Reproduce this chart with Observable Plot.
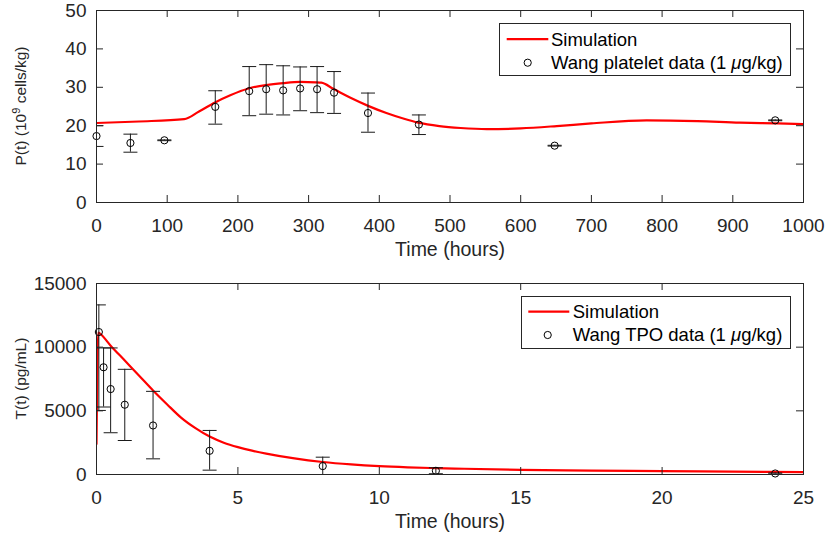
<!DOCTYPE html>
<html><head><meta charset="utf-8">
<script src="https://cdn.jsdelivr.net/npm/d3@7"></script>
<script src="https://cdn.jsdelivr.net/npm/@observablehq/plot@0.6"></script>
<style>
body{margin:0;background:#fff;font-family:"Liberation Sans",Arial,sans-serif;}
#wrap{position:relative;width:826px;height:538px;overflow:hidden;background:#fff;}
#wrap > svg{display:block;}
</style></head><body><div id="wrap"></div>
<script>
// ---------- Top panel: platelets ----------
const pXTicks = [0,100,200,300,400,500,600,700,800,900,1000];
const pYTicks = [0,10,20,30,40,50];
const pTime = [0, 48, 96, 168, 216, 240, 264, 288, 312, 336, 384, 456, 648, 960];
const pMean = [17.3, 15.5, 16.2, 24.9, 29.0, 29.5, 29.2, 29.7, 29.5, 28.6, 23.3, 20.3, 14.8, 21.4];
const pLo   = [14.6, 13.1, 16.1, 20.4, 22.6, 23.0, 22.8, 23.9, 23.4, 23.2, 18.3, 17.7, 14.7, 21.3];
const pHi   = [20.0, 17.8, 16.3, 29.1, 35.4, 35.9, 35.6, 35.3, 35.4, 34.1, 28.5, 22.8, 14.9, 21.5];
const pSimT = [0, 60, 124, 145, 167, 190, 215, 240, 264, 288, 310, 318, 335, 360, 385, 410, 435, 455, 485, 515, 552, 600, 651, 700, 778, 850, 910, 960, 1000];
const pSimV = [20.7, 21.1, 21.7, 23.7, 26.0, 28.0, 29.7, 30.6, 31.1, 31.4, 31.3, 31.2, 29.6, 27.2, 25.1, 23.3, 21.8, 20.8, 19.9, 19.4, 19.1, 19.3, 19.9, 20.6, 21.4, 21.2, 20.8, 20.6, 20.4];

// ---------- Bottom panel: TPO ----------
const tXTicks = [0,5,10,15,20,25];
const tYTicks = [0,5000,10000,15000];
const tTime = [0.083, 0.25, 0.5, 1, 2, 4, 8, 12, 24];
const tMean = [11190, 8420, 6710, 5480, 3850, 1860, 660, 290, 80];
const tLo   = [5030, 5300, 3280, 2670, 1230, 340, -40, 60, 40];
const tHi   = [13320, 9940, 9940, 8260, 6530, 3460, 1360, 530, 120];
const tSimT = [0, 0.06, 0.1, 0.5, 1, 1.5, 2, 2.5, 3, 3.5, 4, 4.5, 5, 5.5, 6, 7, 8, 9, 10, 11, 12, 13, 15, 17.5, 20, 22.5, 25];
const tSimV = [2400, 11150, 11100, 10120, 8950, 7780, 6600, 5500, 4450, 3640, 2980, 2500, 2150, 1870, 1640, 1260, 980, 790, 655, 565, 500, 450, 370, 310, 262, 220, 185];

const FONT = '"Liberation Sans", Arial, sans-serif';
const AX = "#262626";
const capSymbol = { draw(ctx, size) { const r = Math.sqrt(size / Math.PI); ctx.moveTo(-r, 0); ctx.lineTo(r, 0); } };

function panel({xDomain, xTicks, yDomain, yTicks, times, mean, lo, hi, simT, simV, xlabel, mt, mb}) {
  const W = 826, H = 269, ml = 96, mr = 23;
  const innerW = W - ml - mr, innerH = H - mt - mb;
  const data = times.map((t, i) => ({t, m: mean[i], lo: lo[i], hi: hi[i]}));
  const sim = simT.map((t, i) => ({t, v: simV[i]}));
  return Plot.plot({
    width: W, height: H, marginLeft: ml, marginRight: mr, marginTop: mt, marginBottom: mb,
    style: {fontFamily: FONT, color: AX, background: "white"},
    x: {domain: xDomain},
    y: {domain: yDomain},
    marks: [
      Plot.line(sim, {x: "t", y: "v", stroke: "#ff0000", strokeWidth: 2.2, curve: "monotone-x", clip: true}),
      Plot.ruleX(data, {x: "t", y1: "lo", y2: "hi", stroke: "#1a1a1a", strokeWidth: 1, clip: true}),
      Plot.dot(data, {x: "t", y: "lo", symbol: capSymbol, r: 7, fill: "none", stroke: "#1a1a1a", strokeWidth: 1, clip: true}),
      Plot.dot(data, {x: "t", y: "hi", symbol: capSymbol, r: 7, fill: "none", stroke: "#1a1a1a", strokeWidth: 1, clip: true}),
      Plot.dot(data, {x: "t", y: "m", r: 3.6, fill: "none", stroke: "black", strokeWidth: 1}),
      Plot.frame({stroke: AX, strokeWidth: 1}),
      Plot.tickX(xTicks, {x: d => d, insetTop: innerH - 7, stroke: AX}),
      Plot.tickX(xTicks, {x: d => d, insetBottom: innerH - 7, stroke: AX}),
      Plot.tickY(yTicks, {y: d => d, insetRight: innerW - 7, stroke: AX}),
      Plot.tickY(yTicks, {y: d => d, insetLeft: innerW - 7, stroke: AX}),
      Plot.axisX(xTicks, {tickSize: 0, tickPadding: 16, fontSize: 19, label: null, tickFormat: d => String(d), fill: AX}),
      Plot.axisY(yTicks, {tickSize: 0, tickPadding: 10, fontSize: 19, label: null, tickFormat: d => String(d), fill: AX}),
      Plot.text([xlabel], {text: d => d, frameAnchor: "bottom", lineAnchor: "middle", dy: 47, fontSize: 19.5, fill: AX})
    ]
  });
}

function addYLabel(svgNode, mt, mb, parts) {
  const cy = mt + (269 - mt - mb) / 2;
  const t = d3.select(svgNode).append("text")
    .attr("transform", `translate(21,${cy}) rotate(-90)`)
    .attr("text-anchor", "middle").attr("dy", "0.35em")
    .attr("font-family", FONT).attr("font-size", 15.5).attr("fill", AX);
  for (const p of parts) {
    const s = t.append("tspan").text(p.text);
    if (p.sup) s.attr("font-size", "11px").attr("baseline-shift", "6px");
  }
}

const wrapEl = document.getElementById("wrap");
const topPanel = panel({xDomain: [0, 1000], xTicks: pXTicks, yDomain: [0, 50], yTicks: pYTicks,
  times: pTime, mean: pMean, lo: pLo, hi: pHi, simT: pSimT, simV: pSimV,
  xlabel: "Time (hours)", mt: 10, mb: 67});
const botPanel = panel({xDomain: [0, 25], xTicks: tXTicks, yDomain: [0, 15000], yTicks: tYTicks,
  times: tTime, mean: tMean, lo: tLo, hi: tHi, simT: tSimT, simV: tSimV,
  xlabel: "Time (hours)", mt: 14, mb: 64});
wrapEl.appendChild(topPanel);
wrapEl.appendChild(botPanel);

addYLabel(topPanel, 10, 67, [{text: "P(t) (10"}, {text: "9", sup: true}, {text: " cells/kg)"}]);
addYLabel(botPanel, 14, 64, [{text: "T(t) (pg/mL)"}]);

// legends
function legend({left, topY, w, h, lineX1, lineX2, row1Y, row2Y, circX, circY, textX, label}) {
  const s = d3.select(wrapEl).append("svg")
    .style("position", "absolute").style("left", left + "px").style("top", topY + "px")
    .attr("width", w).attr("height", h).attr("font-family", FONT).attr("font-size", 18.5);
  s.append("rect").attr("x", 0.5).attr("y", 0.5).attr("width", w - 1).attr("height", h - 1)
    .attr("fill", "white").attr("stroke", AX).attr("stroke-width", 1);
  s.append("line").attr("x1", lineX1).attr("x2", lineX2).attr("y1", row1Y).attr("y2", row1Y)
    .attr("stroke", "#ff0000").attr("stroke-width", 2.2);
  s.append("text").attr("x", textX).attr("y", row1Y).attr("dy", "0.35em").attr("fill", "black").text("Simulation");
  s.append("circle").attr("cx", circX).attr("cy", circY).attr("r", 3.6).attr("fill", "none").attr("stroke", "black");
  const t2 = s.append("text").attr("x", textX).attr("y", row2Y).attr("dy", "0.35em").attr("fill", "black");
  t2.append("tspan").text(label + " (1 ");
  t2.append("tspan").attr("font-style", "italic").text("\u03bc");
  t2.append("tspan").text("g/kg)");
}
legend({left: 499, topY: 23, w: 292, h: 53, lineX1: 7.7, lineX2: 49.3, row1Y: 16.2, row2Y: 39.5, circX: 28.7, circY: 39.7, textX: 52, label: "Wang platelet data"});
legend({left: 521, topY: 296, w: 270, h: 53, lineX1: 7.3, lineX2: 48.3, row1Y: 15.7, row2Y: 38.5, circX: 26.7, circY: 39, textX: 51.7, label: "Wang TPO data"});
</script>
</body></html>
